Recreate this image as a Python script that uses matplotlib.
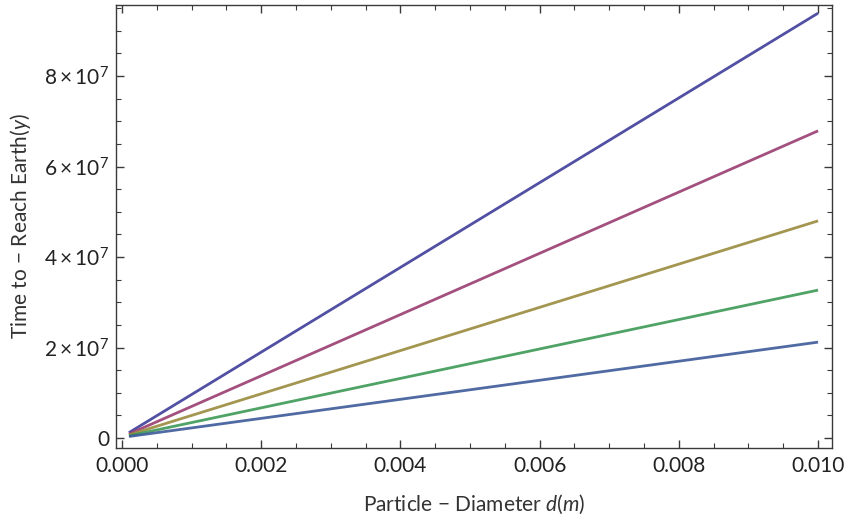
import matplotlib
matplotlib.use("Agg")
import matplotlib.pyplot as plt
from matplotlib.ticker import FuncFormatter, MultipleLocator

# particle diameter (m), first and last sampled point
d_start = 0.0001
d_end = 0.010

# time to reach earth (y) at d_start and d_end, top line first
t_start = [1.2e6, 0.9e6, 0.7e6, 0.5e6, 0.35e6]
t_end = [9.39e7, 6.79e7, 4.80e7, 3.27e7, 2.12e7]

# Mathematica default plot colours
colors = [
    (0.2472, 0.24, 0.6),
    (0.6, 0.24, 0.4429),
    (0.6, 0.547, 0.24),
    (0.24, 0.6, 0.3369),
    (0.24, 0.3532, 0.6),
]

plt.rcParams["font.family"] = ["Lato", "DejaVu Sans"]
plt.rcParams["mathtext.fontset"] = "custom"
plt.rcParams["mathtext.rm"] = "Lato"
plt.rcParams["mathtext.it"] = "Lato:italic"

fig = plt.figure(figsize=(8.45, 5.18), dpi=100)
ax = fig.add_axes([0.1373, 0.1351, 0.8473, 0.8552])

for y0, y1, c in zip(t_start, t_end, colors):
    ax.plot([d_start, d_end], [y0, y1], color=c, lw=2.0, alpha=0.9,
            solid_capstyle="butt")

ax.set_xlim(-0.0000862, 0.0102)
ax.set_ylim(-0.22e7, 9.57e7)

ax.xaxis.set_major_locator(MultipleLocator(0.002))
ax.xaxis.set_minor_locator(MultipleLocator(0.0005))
ax.yaxis.set_major_locator(MultipleLocator(2e7))
ax.yaxis.set_minor_locator(MultipleLocator(5e6))

ax.xaxis.set_major_formatter(FuncFormatter(lambda v, p: f"{v:.3f}"))


def yfmt(v, p):
    if abs(v) < 1:
        return "0"
    return r"$%d\times10^{7}$" % round(v / 1e7)


ax.yaxis.set_major_formatter(FuncFormatter(yfmt))

frame_col = "#3a3a3a"
for s in ax.spines.values():
    s.set_color(frame_col)
    s.set_linewidth(1.0)
ax.tick_params(which="both", direction="in", top=True, right=True,
               colors=frame_col, labelcolor="#222222", labelsize=15)
ax.tick_params(which="major", length=6, width=1.0)
ax.tick_params(which="minor", length=3.5, width=0.8)
ax.tick_params(axis="x", pad=6)
ax.tick_params(axis="y", pad=5)

ax.set_xlabel(r"Particle $-$ Diameter $d(m)$", fontsize=15, color="#333333", labelpad=12)
ax.set_ylabel(r"Time to $-$ Reach Earth$(y)$", fontsize=15, color="#333333", labelpad=8)

fig.savefig("out.png", dpi=100)
